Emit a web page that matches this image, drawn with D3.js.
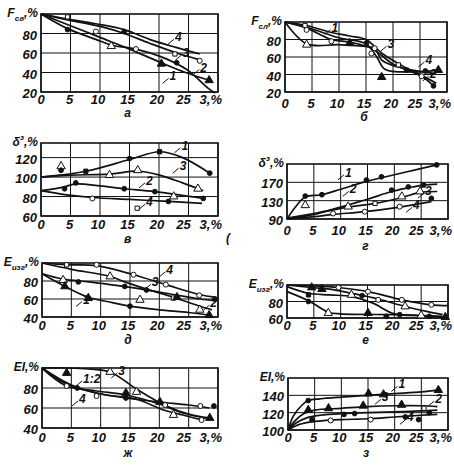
<!DOCTYPE html>
<html>
<head>
<meta charset="utf-8">
<script src="https://d3js.org/d3.v7.min.js"></script>
<style>
  body { margin: 0; background: #fff; }
  text { font-family: "Liberation Sans", "DejaVu Sans", sans-serif; font-style: italic; font-weight: bold; fill: #111; }
</style>
</head>
<body>
<svg id="chart" width="454" height="471"></svg>
<script>
// x axis is the same for all eight panels
const xTicks = [0, 5, 10, 15, 20, 25, 30];
const xTickLabels = ["0", "5", "10", "15", "20", "25", "3,%"];

// panel а  (F св, %)
const a1 = [[0,100],[5,88],[10,76],[15,64],[20.4,50],[24.5,40],[28.5,32]];
const a2 = [[0,100],[4.5,85],[9.3,74],[12,68],[16.1,64],[20.4,56],[24.7,43],[28.3,24],[29.5,19]];
const a3 = [[0,100],[4.5,94],[10.2,87],[14.1,80],[18.4,70],[23,60],[26.9,53]];
const a4 = [[0,100],[4.3,95],[9.3,90],[14.1,84],[18.4,74],[22.7,66],[26.9,59]];
const aMarks = [[4.5,97,"os"],[4.5,84,"fc"],[9.3,82,"oc"],[14.1,82,"fc"],[11.9,67,"ot"],[16.1,64,"oc"],
  [20.4,49,"ft"],[22.7,59,"os"],[23,50,"fc"],[26.9,52,"oc"],[28.5,32,"ft"]];
const aLabels = [["4",22.7,72],["3",24,56],["2",27,41],["1",21.8,32]];

// panel б
const b1 = [[0,100],[4,96],[8.6,88],[12,84],[15,80],[18,64],[22,49],[25.3,39],[28,30]];
const b2 = [[0,100],[4,93],[8.6,80],[12,77],[16,70],[20,52],[25.3,38],[27.5,27]];
const b3 = [[0,100],[4,75],[10,74],[15,72],[16.6,70],[18,56],[22,47],[28,41]];
const b4 = [[0,100],[4,94],[10,82],[15,75],[17,60],[18.5,46],[24,43],[28.4,45]];
const bMarks = [[3.7,96,"os"],[4,74,"ot"],[4,91,"oc"],[8.6,78,"oc"],[12,76,"ft"],[15.1,76,"fc"],[16,64,"oc"],
  [16.6,70,"oc"],[17.9,37,"ft"],[21,51,"os"],[22.5,45,"fs"],[25.3,38,"oc"],[26,44,"fc"],[28.4,45,"ft"],[27.5,27,"fc"]];
const bLabels = [["1",8.6,89],["3",19,70],["4",26,52],["2",26.8,36]];

// panel в  (δз, %)
const c1 = [[0,100],[7.6,106],[15,118],[20.1,126],[24,120],[28.6,104]];
const c2 = [[0,86],[4,90],[5.9,93],[10,91],[14.1,88],[19.3,85],[27.5,78]];
const c3 = [[0,100],[5,102],[11.6,103],[16.4,106],[20.1,102],[24,94],[27.5,86]];
const c4 = [[0,86],[4,82],[8.7,79],[15,77],[21.6,75],[27.3,73]];
const cMarks = [[3.4,111,"ot"],[3.4,107,"fc"],[7.6,106,"fs"],[15,119,"fc"],[20.1,126,"fs"],[28.6,104,"fc"],
  [11.6,102,"ot"],[16.4,107,"ot"],[26.6,88,"ot"],[4,88,"fc"],[5.9,94,"fc"],[14.1,88,"fc"],[19.3,85,"fc"],
  [27.5,78,"fc"],[8.7,78,"oc"],[22.5,80,"ot"],[21.6,75,"fc"],[16.3,68,"os"]];
const cLabels = [["1",23.8,128],["3",23.5,107],["2",17.8,92],["4",17.8,70]];

// panel г
const k1 = [[0,90],[1.5,115],[3.4,138],[6.5,143],[10,155],[14.8,172],[17.6,180],[22,192],[27.9,208]];
const k2 = [[0,90],[5,100],[10,116],[15,133],[19.5,150],[22.6,158],[25.4,164],[28,166]];
const k3 = [[0,92],[5,102],[11.4,116],[16.4,124],[21.4,137],[24.8,148],[28,150]];
const k4 = [[0,90],[5,95],[8.6,100],[14.5,106],[21,116],[26.9,128]];
const kMarks = [[3.4,140,"fc"],[3.4,120,"ot"],[6.5,143,"fc"],[14.8,175,"fc"],[17.6,182,"fc"],[27.9,208,"fc"],
  [19.5,153,"fc"],[22.6,160,"fc"],[25.4,164,"fs"],[11.4,117,"ot"],[16.4,124,"os"],[21.4,139,"ot"],
  [24.8,150,"ot"],[8.6,102,"oc"],[14.5,106,"oc"],[21,117,"oc"],[26.9,135,"fc"]];
const kLabels = [["1",10.8,182],["2",11.7,146],["3",25.7,142],["4",23.5,111]];

// panel д  (E изг, %)
const e1 = [[0,88],[3.9,74],[7.9,62],[12,56],[15,52],[20,48],[25,45],[28.5,42]];
const e2 = [[0,88],[3.6,82],[8,79],[11.6,76],[17,71],[22.4,65],[26.9,60],[29.5,58]];
const e3 = [[0,100],[5,93],[11.6,85],[14.1,79],[17.8,71],[22.4,62],[26.9,52],[29,48]];
const e4 = [[0,100],[4.2,98],[9.3,97],[15.6,87],[21.1,76],[26.8,65],[29.5,62]];
const eMarks = [[4.2,98,"os"],[9.3,98,"oc"],[15.6,87,"oc"],[21.1,76,"oc"],[26.8,64,"oc"],[3.6,81,"ot"],
  [3.9,74,"ft"],[6.2,79,"fc"],[11.6,85,"ot"],[14.1,74,"fc"],[17.8,70,"fc"],[7.9,61,"ft"],[15,52,"fc"],
  [16.7,59,"ot"],[22.4,61,"os"],[23,62,"ft"],[26.9,48,"ot"],[28.5,42,"ft"],[29.5,60,"fc"]];
const eLabels = [["4",21.2,88],["3",18.7,74],["1",7,55],["2",28.7,51]];

// panel е
const f1 = [[0,92],[4,81],[7.7,67],[10,65],[20,64],[25,63],[29,62]];
const f2 = [[0,98],[4,90],[8,88],[12,86],[16,78],[20,65],[25,63],[29,61]];
const f3 = [[0,100],[4.6,97],[8,95],[12,90],[17,83],[22,74],[26,68],[29,64]];
const f4 = [[0,100],[5,99],[9.6,97],[15.1,92],[21.4,82],[26.9,76],[30,75]];
const fMarks = [[4.6,97,"ft"],[6.5,95,"ft"],[4,88,"fs"],[9.6,97,"oc"],[15.1,92,"oc"],[21.4,82,"oc"],
  [26.9,76,"oc"],[12,88,"ot"],[14,87,"fc"],[17,82,"oc"],[22,74,"ot"],[4,80,"fc"],[7.7,66,"ot"],
  [15.1,66,"ft"],[18.5,62,"fc"],[21,64,"fc"],[25,63,"ot"],[26.5,62,"fc"],[29.5,61,"ft"]];
const fLabels = [];

// panel ж  (EI, %)
const g1 = [[0,100],[4.2,84],[9.3,75],[14.3,70],[20,66],[25,63],[28.5,60]];
const g2 = [[0,100],[4.2,82],[9.3,77],[14.3,73],[20,64],[24,55],[28.5,49]];
const g3 = [[0,100],[4.2,100],[8,99],[11.6,96],[16.1,79],[21.2,62],[25,54],[28.6,50]];
const g4 = [[0,100],[5,83],[10,74],[16,69],[20.7,58],[24,53],[27.2,48]];
const gMarks = [[4.2,95,"ft"],[4.2,82,"oc"],[6,80,"fc"],[9.3,72,"oc"],[14.3,70,"fc"],[14.3,75,"ft"],
  [11.6,96,"ot"],[16.1,76,"ot"],[20.1,66,"ft"],[22.4,53,"ot"],[21,63,"oc"],[27,62,"oc"],[28.6,50,"ft"],
  [27.2,48,"oc"],[29.3,62,"fc"]];
const gLabels = [["1:2",7,85],["3",13,93],["4",6.3,65]];

// panel з
const h1 = [[0,100],[1,116],[2.5,128],[3.8,134],[6,136],[10,138],[15,140],[20,142],[25,144],[28.2,146]];
const h2 = [[0,100],[1.5,108],[3.5,114],[6,117],[10,119],[15,120],[20,121],[25,122],[28,123]];
const h3 = [[0,100],[1.2,110],[3,119],[5,123],[10,125],[15,127],[20,128],[25,128],[28,127]];
const h4 = [[0,100],[1.5,105],[4,109],[7,111],[10,112],[15,113],[20,115],[25,117],[28,118]];
const hMarks = [[3.8,134,"fc"],[3.8,123,"ft"],[7.6,125,"ft"],[10.5,118,"fc"],[14.1,128,"ft"],[15.1,142,"ft"],
  [17.9,141,"ft"],[28.2,146,"ft"],[21.3,129,"ft"],[25.5,125,"os"],[4.5,112,"fc"],[8,111,"oc"],
  [15.5,112,"oc"],[22,115,"fc"],[24.5,112,"fc"],[12.5,119,"fc"],[26.5,120,"fc"]];
const hLabels = [["1",20.7,148],["3",17.6,133],["2",27.6,131],["4",22.3,110]];

// layout of each panel (pixel boxes)
const panels = [
  { letter: "а", l: 41, r: 218, t: 14, b: 92, y: [20, 100], ticks: [20, 40, 60, 80], ttl: ["F", "св", "%"],
    tickY: 104, letterY: 117, series: [a1, a2, a3, a4], marks: aMarks, labels: aLabels },
  { letter: "б", l: 285, r: 447, t: 22, b: 92, y: [20, 100], ticks: [20, 40, 60, 80], ttl: ["F", "сл", "%"],
    tickY: 108, letterY: 121, series: [b1, b2, b3, b4], marks: bMarks, labels: bLabels },
  { letter: "в", l: 41, r: 218, t: 143, b: 216, y: [60, 135], ticks: [60, 80, 100, 120], ttl: ["δ", "з", "%", true],
    tickY: 229, letterY: 243, series: [c1, c2, c3, c4], marks: cMarks, labels: cLabels },
  { letter: "г", l: 287, r: 448, t: 164, b: 219, y: [90, 210], ticks: [90, 130, 170], ttl: ["δ", "з", "%", true],
    tickY: 235, letterY: 250, series: [k1, k2, k3, k4], marks: kMarks, labels: kLabels },
  { letter: "д", l: 42, r: 218, t: 263, b: 317, y: [40, 100], ticks: [40, 60, 80], ttl: ["E", "изг", "%"],
    tickY: 330, letterY: 344, series: [e1, e2, e3, e4], marks: eMarks, labels: eLabels },
  { letter: "е", l: 287, r: 448, t: 285, b: 318, y: [60, 100], ticks: [60, 80], ttl: ["E", "изг", "%"],
    tickY: 330, letterY: 344, series: [f1, f2, f3, f4], marks: fMarks, labels: fLabels },
  { letter: "ж", l: 42, r: 218, t: 368, b: 428, y: [40, 100], ticks: [40, 60, 80], ttl: ["EI", "", "%"],
    tickY: 442, letterY: 457, series: [g1, g2, g3, g4], marks: gMarks, labels: gLabels },
  { letter: "з", l: 288, r: 448, t: 378, b: 430, y: [100, 160], ticks: [100, 120, 140], ttl: ["EI", "", "%"],
    tickY: 442, letterY: 457, series: [h1, h2, h3, h4], marks: hMarks, labels: hLabels },
];

const svg = d3.select("#chart");
svg.append("rect").attr("width", 454).attr("height", 471).attr("fill", "#fff");

const symbolOf = {
  ft: [d3.symbolTriangle, 30, true], ot: [d3.symbolTriangle, 30, false],
  fc: [d3.symbolCircle, 18, true], oc: [d3.symbolCircle, 20, false],
  fs: [d3.symbolSquare, 18, true], os: [d3.symbolSquare, 18, false],
};

panels.forEach(p => {
  const x = d3.scaleLinear().domain([0, 30]).range([p.l, p.r]);
  const y = d3.scaleLinear().domain(p.y).range([p.b, p.t]);
  const g = svg.append("g");

  // grid
  g.selectAll(".vg").data(xTicks).join("line")
    .attr("x1", d => x(d)).attr("x2", d => x(d)).attr("y1", p.t).attr("y2", p.b)
    .attr("stroke", "#111").attr("stroke-width", 1);
  g.selectAll(".hg").data(p.ticks).join("line")
    .attr("x1", p.l).attr("x2", p.r).attr("y1", d => y(d)).attr("y2", d => y(d))
    .attr("stroke", "#111").attr("stroke-width", 1);
  g.append("rect").attr("x", p.l).attr("y", p.t).attr("width", p.r - p.l).attr("height", p.b - p.t)
    .attr("fill", "none").attr("stroke", "#111").attr("stroke-width", 1.6);

  // tick labels
  const xOff = [0, -1, -2, -2, -2, -5, 4];
  g.selectAll(".xt").data(xTicks).join("text")
    .attr("x", (d, i) => x(d) + xOff[i])
    .attr("y", p.tickY)
    .attr("text-anchor", (d, i) => i === xTicks.length - 1 ? "end" : "middle")
    .attr("font-size", 13).text((d, i) => xTickLabels[i]);
  g.selectAll(".yt").data(p.ticks).join("text")
    .attr("x", p.l - 4).attr("y", d => y(d) + 6)
    .attr("text-anchor", "end").attr("font-size", 13).text(d => d);

  // axis title
  const tt = g.append("text").attr("x", p.l - 3).attr("y", p.t + 3).attr("text-anchor", "end").attr("font-size", 12);
  tt.append("tspan").text(p.ttl[0]);
  if (p.ttl[1]) {
    tt.append("tspan").attr("font-size", 8).attr("dy", p.ttl[3] ? -6 : 4).text(p.ttl[1]);
    tt.append("tspan").attr("dy", p.ttl[3] ? 6 : -4).text("," + p.ttl[2]);
  } else {
    tt.append("tspan").text("," + p.ttl[2]);
  }

  // panel letter
  g.append("text").attr("x", (p.l + p.r) / 2 - 2).attr("y", p.letterY)
    .attr("text-anchor", "middle").attr("font-size", 12).text(p.letter);

  // curves
  const line = d3.line().x(d => x(d[0])).y(d => y(d[1])).curve(d3.curveCatmullRom.alpha(0.5));
  g.selectAll(".crv").data(p.series).join("path")
    .attr("d", line).attr("fill", "none").attr("stroke", "#111").attr("stroke-width", 1.7);

  // markers
  g.selectAll(".mk").data(p.marks).join("path")
    .attr("transform", d => `translate(${x(d[0])},${y(d[1])})`)
    .attr("d", d => d3.symbol().type(symbolOf[d[2]][0]).size(symbolOf[d[2]][1])())
    .attr("fill", d => symbolOf[d[2]][2] ? "#111" : "#fff")
    .attr("stroke", "#111").attr("stroke-width", 1);

  // curve numbers with short leader strokes
  g.selectAll(".lb").data(p.labels).join("text")
    .attr("x", d => x(d[1])).attr("y", d => y(d[2]))
    .attr("font-size", 12).attr("font-weight", "normal").text(d => d[0]);
  g.selectAll(".ld").data(p.labels).join("line")
    .attr("x1", d => x(d[1]) - 1).attr("y1", d => y(d[2]) - 2)
    .attr("x2", d => x(d[1]) - 7).attr("y2", d => y(d[2]) + 3)
    .attr("stroke", "#111").attr("stroke-width", 1);
});

svg.append("text").attr("x", 226).attr("y", 242).attr("font-size", 12).text("(");
</script>
</body>
</html>
